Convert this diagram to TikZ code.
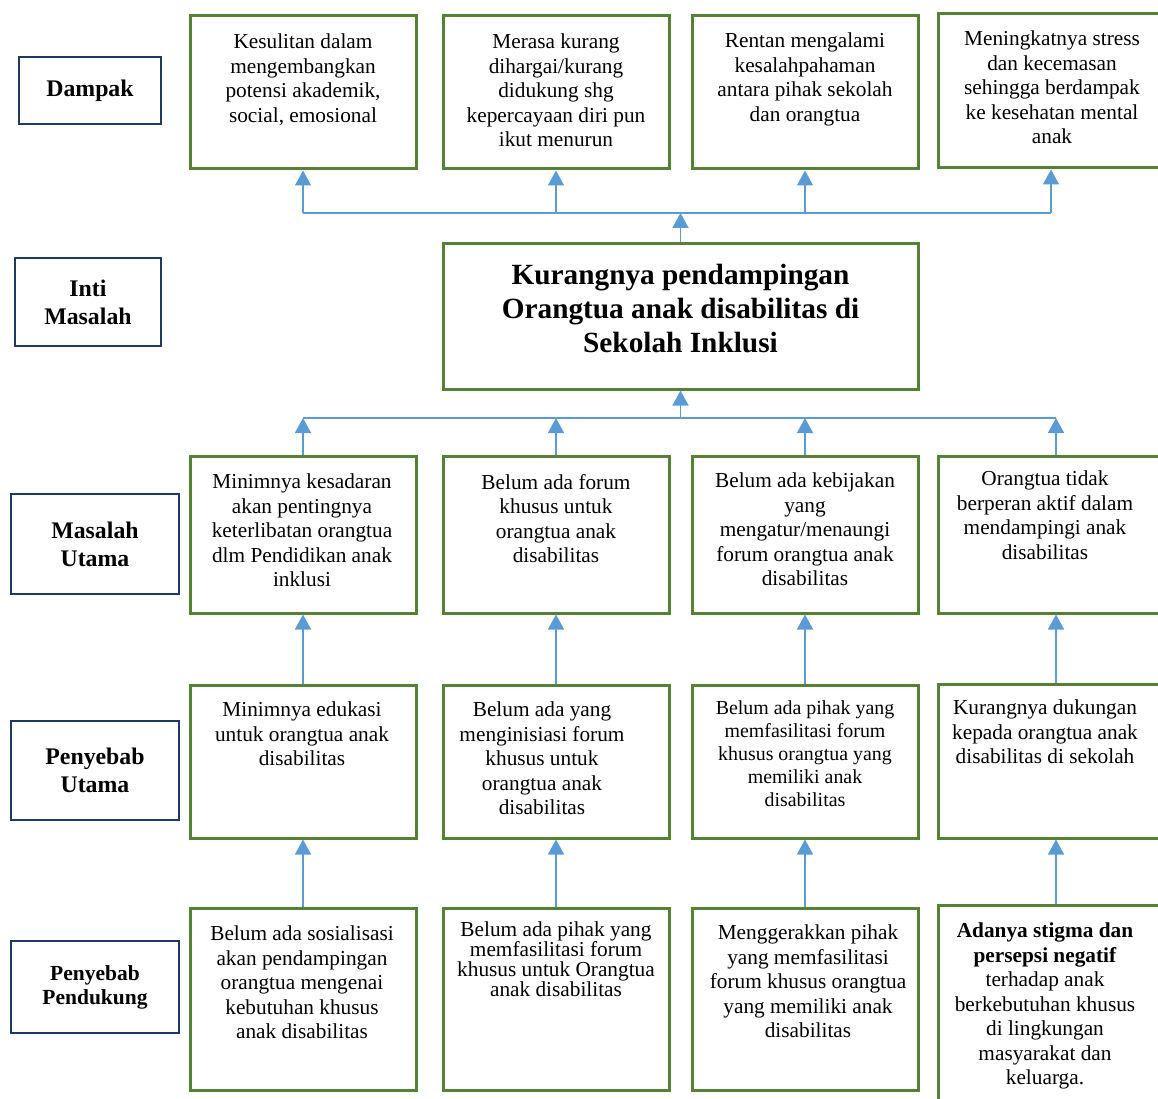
\documentclass[tikz,border=0pt]{standalone}
\usepackage{fontspec}
\setmainfont{Liberation Serif}
\usepackage{xcolor}
\usetikzlibrary{arrows.meta}
\definecolor{hijau}{RGB}{84,130,53}
\definecolor{biru}{RGB}{91,155,213}
\definecolor{navy}{RGB}{31,56,100}
\def\isi{\fontsize{21.3}{24.5}\selectfont}

\begin{document}
\begin{tikzpicture}[x=1pt, y=-1pt,
    kotak/.style={draw=hijau, line width=3pt, minimum width=226pt, inner sep=0pt},
    judul/.style={draw=navy, line width=1.4pt, align=center, inner sep=0pt,
      font=\bfseries\fontsize{23.8}{28}\selectfont},
    teks/.style={align=center, anchor=north, inner sep=0pt, font=\isi},
    garis/.style={draw=biru, line width=1.5pt},
    panah/.style={garis, -{Triangle[width=16pt,length=15pt]}}]

      \useasboundingbox (0,0) rectangle (1158,1099);
      \clip (0,0) rectangle (1158,1099);

      % label di kiri
      \node[judul, minimum width=142pt, minimum height=67pt] (ldampak) at (90,90.5) {Dampak};
      \node[judul, minimum width=146pt, minimum height=88pt] (linti) at (88,302) {Inti\\Masalah};
      \node[judul, minimum width=168pt, minimum height=100pt] (lmasalah) at (95,544) {Masalah\\Utama};
      \node[judul, minimum width=168pt, minimum height=99pt] (lsebab) at (95,770.5) {Penyebab\\Utama};
      \node[judul, minimum width=168pt, minimum height=92pt,
        font=\bfseries\fontsize{21.5}{24}\selectfont] (ldukung) at (95,987) {Penyebab\\Pendukung};

      % kotak hijau
      \foreach \i/\x in {1/303, 2/556, 3/805} {
        \node[kotak, minimum height=153pt] (d\i) at (\x,92.5) {};
        \node[kotak, minimum height=157pt] (m\i) at (\x,534.5) {};
        \node[kotak, minimum height=153pt] (p\i) at (\x,761.5) {};
        \node[kotak, minimum height=182pt] (s\i) at (\x,999) {};
      }
      \node[kotak, minimum height=154pt] (d4) at (1051,91) {};
      \node[kotak, minimum width=236pt, minimum height=157pt] (m4) at (1056,534.5) {};
      \node[kotak, minimum width=236pt, minimum height=154pt] (p4) at (1056,761) {};
      \node[kotak, minimum width=236pt, minimum height=220pt] (s4) at (1056,1015) {};
      \node[kotak, minimum width=475pt, minimum height=145pt] (inti) at (680.5,316.5) {};

      % isi kotak
      \node[teks] (td1) at (303,34) {Kesulitan dalam\\mengembangkan\\potensi akademik,\\social, emosional};
      \node[teks] (td2) at (556,34) {Merasa kurang\\dihargai/kurang\\didukung shg\\kepercayaan diri pun\\ikut menurun};
      \node[teks] (td3) at (805,33) {Rentan mengalami\\kesalahpahaman\\antara pihak sekolah\\dan orangtua};
      \node[teks] (td4) at (1052,31) {Meningkatnya stress\\dan kecemasan\\sehingga berdampak\\ke kesehatan mental\\anak};

      \node[teks, font=\bfseries\fontsize{29.3}{34}\selectfont] (tinti) at (680.5,264)
        {Kurangnya pendampingan\\Orangtua anak disabilitas di\\Sekolah Inklusi};

      \node[teks] (tm1) at (302,474) {Minimnya kesadaran\\akan pentingnya\\keterlibatan orangtua\\dlm Pendidikan anak\\inklusi};
      \node[teks] (tm2) at (556,474) {Belum ada forum\\khusus untuk\\orangtua anak\\disabilitas};
      \node[teks] (tm3) at (805,473) {Belum ada kebijakan\\yang\\mengatur/menaungi\\forum orangtua anak\\disabilitas};
      \node[teks] (tm4) at (1045,471) {Orangtua tidak\\berperan aktif dalam\\mendampingi anak\\disabilitas};

      \node[teks] (tp1) at (302,702) {Minimnya edukasi\\untuk orangtua anak\\disabilitas};
      \node[teks] (tp2) at (542,702) {Belum ada yang\\menginisiasi forum\\khusus untuk\\orangtua anak\\disabilitas};
      \node[teks, font=\fontsize{19.9}{23}\selectfont] (tp3) at (805,700) {Belum ada pihak yang\\memfasilitasi forum\\khusus orangtua yang\\memiliki anak\\disabilitas};
      \node[teks] (tp4) at (1045,700) {Kurangnya dukungan\\kepada orangtua anak\\disabilitas di sekolah};

      \node[teks] (ts1) at (302,926) {Belum ada sosialisasi\\akan pendampingan\\orangtua mengenai\\kebutuhan khusus\\anak disabilitas};
      \node[teks, font=\fontsize{21.3}{19.7}\selectfont] (ts2) at (556,922) {Belum ada pihak yang\\memfasilitasi forum\\khusus untuk Orangtua\\anak disabilitas};
      \node[teks] (ts3) at (808,925) {Menggerakkan pihak\\yang memfasilitasi\\forum khusus orangtua\\yang memiliki anak\\disabilitas};
      \node[teks] (ts4) at (1045,923) {\textbf{Adanya stigma dan}\\\textbf{persepsi negatif}\\terhadap anak\\berkebutuhan khusus\\di lingkungan\\masyarakat dan\\keluarga.};

      % panah
      \coordinate (atas) at (682,213);
      \coordinate (bawah) at (682,418);
      \draw[panah] (inti.north) -- (inti.north |- atas);
      \draw[garis] (d1.south |- atas) -- (d4.south |- atas);
      \foreach \n in {d1,d2,d3,d4}
        \draw[panah] (\n.south |- atas) -- (\n.south);
      \draw[panah] (inti.south |- bawah) -- (inti.south);
      \draw[garis] (m1.north |- bawah) -- (m4.north |- bawah);
      \foreach \i in {1,2,3,4} {
        \draw[panah] (m\i.north) -- (m\i.north |- bawah);
        \draw[panah] (p\i.north) -- (m\i.south);
        \draw[panah] (s\i.north) -- (p\i.south);
      }

    \end{tikzpicture}
\end{document}
